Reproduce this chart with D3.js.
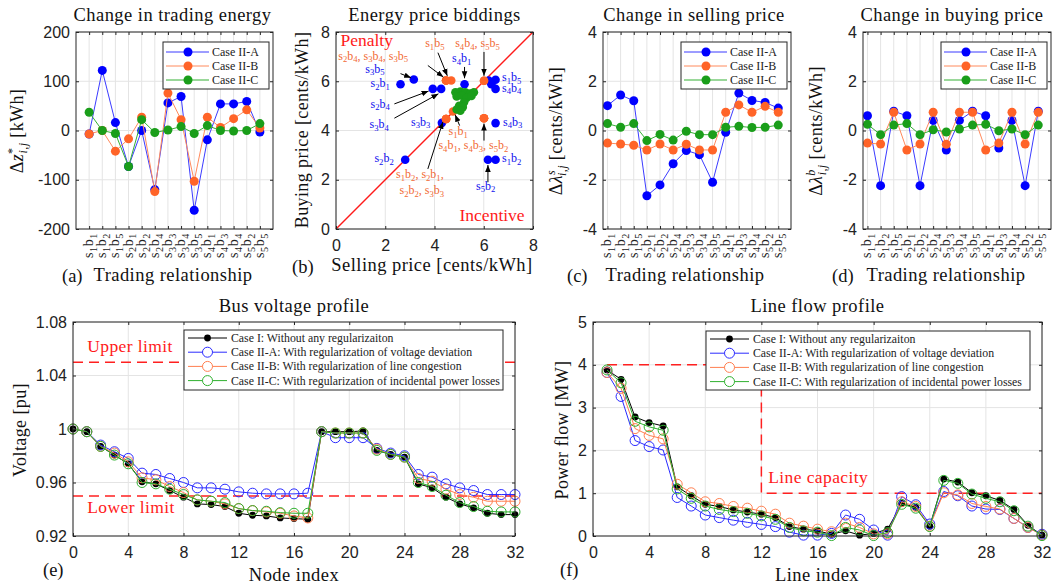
<!DOCTYPE html>
<html>
<head>
<meta charset="utf-8">
<script src="https://cdn.jsdelivr.net/npm/d3@7"></script>
<style>
  body { margin: 0; background: #fff; }
  svg { display: block; }
</style>
</head>
<body>
<svg id="fig" width="1062" height="586"></svg>
<script>
// ---- data ----
var trades = ["s1b1", "s1b2", "s1b5", "s2b1", "s2b2", "s2b4", "s3b3", "s3b4", "s3b5", "s4b1", "s4b3", "s4b4", "s5b2", "s5b5"];

// (a) change in trading energy [kWh]
var dzA = [-7, 122, 16, -73, 0, -120, 56, 69, -162, -19, 54, 54, 59, -3];
var dzB = [-7, 0, -42, -17, 27, -124, 76, 22, -103, 27, 6, 24, 42, 5];
var dzC = [37, 0, -6, -73, 22, -4, 1, 8, -6, 10, 0, -1, 0, 14];

// (c) change in selling price
var dlsA = [1.01, 1.44, 1.21, -2.65, -2.21, -1.35, -0.81, -0.98, -2.10, -0.07, 1.52, 1.22, 1.14, 0.91];
var dlsB = [-0.51, -0.55, -0.60, -0.79, -0.55, -0.79, -0.56, -0.79, -0.79, 0.74, 1.04, 0.74, 0.98, 0.74];
var dlsC = [0.28, 0.13, 0.28, -0.41, -0.16, -0.39, -0.03, -0.17, -0.17, 0.13, 0.17, 0.12, 0.13, 0.22];

// (d) change in buying price
var dlbA = [0.60, -2.24, 0.78, 0.60, -2.24, 0.41, -0.79, 0.41, 0.78, 0.60, -0.71, 0.41, -2.24, 0.78];
var dlbB = [-0.51, -0.55, 0.74, -0.79, -0.55, 0.74, -0.56, 0.74, 0.74, -0.79, -0.51, 0.74, -0.55, 0.74];
var dlbC = [0.25, -0.17, 0.22, 0.28, -0.17, 0.03, -0.06, 0.06, 0.22, 0.25, -0.01, 0.06, -0.17, 0.22];

// (b) bids: selling price / buying price per trade
var sellA = [6.31, 6.48, 6.48, 2.62, 2.81, 3.93, 4.30, 4.27, 3.16, 5.22, 6.48, 6.48, 6.17, 6.20];
var buyA  = [5.88, 2.81, 6.06, 5.88, 2.81, 5.69, 4.31, 5.69, 6.07, 5.88, 4.30, 5.69, 2.81, 6.03];
var sellB = [4.75, 4.47, 4.68, 4.47, 4.47, 4.47, 4.47, 4.47, 4.47, 6.01, 6.01, 6.01, 6.01, 6.01];
var buyB  = [4.77, 4.47, 6.03, 4.47, 4.47, 6.03, 4.47, 6.03, 6.03, 4.50, 4.50, 6.02, 4.50, 6.02];
var sellC = [4.85, 5.05, 5.25, 5.45, 5.60, 4.90, 5.10, 5.30, 5.50, 5.20, 5.00, 5.15, 4.90, 5.05];
var buyC  = [5.55, 5.58, 5.55, 5.50, 5.55, 5.38, 5.42, 5.32, 5.40, 5.15, 5.00, 4.95, 4.85, 4.80];

// (b) annotations (data coordinates)
var bidNotes = [
  { t: "s3b5", x: 1.19, y: 6.35, c: "A" }, { t: "s2b1", x: 1.40, y: 5.76, c: "A" },
  { t: "s2b4", x: 1.40, y: 4.92, c: "A" }, { t: "s3b4", x: 1.36, y: 4.09, c: "A" },
  { t: "s3b3", x: 3.05, y: 4.20, c: "A" }, { t: "s2b2", x: 1.56, y: 2.71, c: "A" },
  { t: "s4b1", x: 4.71, y: 6.78, c: "A" }, { t: "s1b5", x: 6.74, y: 6.00, c: "A" },
  { t: "s4b4", x: 6.74, y: 5.57, c: "A" }, { t: "s4b3", x: 6.78, y: 4.20, c: "A" },
  { t: "s1b2", x: 6.74, y: 2.71, c: "A" }, { t: "s5b2", x: 5.69, y: 1.59, c: "A" },
  { t: "s1b5", x: 3.62, y: 7.39, c: "B" }, { t: "s4b4, s5b5", x: 4.84, y: 7.39, c: "B" },
  { t: "s2b4, s3b4, s3b5", x: 0.09, y: 6.87, c: "B" }, { t: "s1b1", x: 4.57, y: 3.80, c: "B" },
  { t: "s4b1, s4b3, s5b2", x: 4.16, y: 3.24, c: "B" }, { t: "s1b2, s2b1,", x: 2.44, y: 2.06, c: "B" },
  { t: "s2b2, s3b3", x: 2.58, y: 1.42, c: "B" }
];
var bidArrows = [
  [2.62, 6.31, 3.05, 6.14], [2.37, 5.08, 3.76, 5.60], [2.37, 4.50, 4.16, 5.49],
  [5.22, 6.58, 5.22, 6.12], [4.14, 7.16, 4.52, 6.22], [3.73, 6.64, 4.36, 6.17],
  [6.01, 7.19, 6.01, 6.22], [5.02, 4.20, 4.84, 4.64], [6.01, 3.59, 6.01, 4.28],
  [3.73, 2.44, 4.34, 4.35], [6.17, 1.90, 6.17, 2.60]
];

// (e) bus voltage [pu], nodes 0..32
var nodes = d3.range(0, 33);
var voltI = [1.000, 0.998, 0.987, 0.9805, 0.974, 0.9605, 0.959, 0.954, 0.949, 0.944, 0.9435, 0.942, 0.937, 0.9355, 0.935, 0.9335, 0.933, 0.9325,
             0.998, 0.998, 0.998, 0.9985, 0.984, 0.981, 0.979, 0.959, 0.956, 0.949, 0.944, 0.941, 0.937, 0.936, 0.936];
var voltA = [1.000, 0.998, 0.988, 0.983, 0.978, 0.967, 0.966, 0.963, 0.960, 0.956, 0.956, 0.955, 0.953, 0.952, 0.9515, 0.9515, 0.9515, 0.952,
             0.998, 0.9935, 0.9935, 0.9935, 0.9855, 0.982, 0.980, 0.966, 0.964, 0.959, 0.956, 0.954, 0.951, 0.951, 0.951];
var voltB = [1.000, 0.998, 0.987, 0.982, 0.9755, 0.9635, 0.962, 0.957, 0.9525, 0.947, 0.946, 0.944, 0.9405, 0.939, 0.938, 0.937, 0.935, 0.9335,
             0.998, 0.997, 0.997, 0.997, 0.985, 0.981, 0.979, 0.963, 0.961, 0.955, 0.951, 0.949, 0.946, 0.946, 0.946];
var voltC = [1.000, 0.998, 0.987, 0.9805, 0.974, 0.960, 0.959, 0.955, 0.951, 0.947, 0.946, 0.945, 0.9405, 0.939, 0.9385, 0.9375, 0.937, 0.937,
             0.998, 0.997, 0.997, 0.997, 0.984, 0.981, 0.979, 0.960, 0.957, 0.9505, 0.945, 0.942, 0.9385, 0.938, 0.938];

// (f) line flow [MW], lines 1..32
var lines = d3.range(1, 33);
var flowI = [3.88, 3.66, 2.78, 2.65, 2.57, 1.15, 0.94, 0.74, 0.69, 0.61, 0.56, 0.51, 0.43, 0.22, 0.16, 0.12,
             0.04, 0.12, 0.02, 0.06, 0.16, 0.76, 0.67, 0.23, 1.33, 1.26, 1.01, 0.94, 0.83, 0.62, 0.25, 0.02];
var flowA = [3.82, 3.26, 2.23, 2.09, 2.01, 0.90, 0.70, 0.49, 0.43, 0.37, 0.32, 0.27, 0.22, 0.09, 0.02, 0.02,
             0.06, 0.49, 0.39, 0.14, 0.02, 0.92, 0.73, 0.28, 1.04, 0.94, 0.70, 0.63, 0.62, 0.41, 0.20, 0.04];
var flowB = [3.82, 3.45, 2.51, 2.35, 2.27, 1.21, 1.01, 0.80, 0.76, 0.69, 0.65, 0.58, 0.51, 0.30, 0.23, 0.16,
             0.10, 0.30, 0.20, 0.05, 0.05, 0.80, 0.69, 0.23, 1.01, 0.96, 0.76, 0.69, 0.63, 0.41, 0.20, 0.02];
var flowC = [3.88, 3.58, 2.68, 2.55, 2.47, 1.10, 0.88, 0.70, 0.62, 0.57, 0.53, 0.47, 0.39, 0.20, 0.12, 0.09,
             0.01, 0.20, 0.14, 0.01, 0.08, 0.74, 0.65, 0.22, 1.30, 1.23, 0.98, 0.88, 0.80, 0.59, 0.23, 0.01];

var voltLimits = [1.05, 0.95];
var capX = [1, 12, 12, 32], capY = [4, 4, 1, 1];

var caseNames = ["Case II-A", "Case II-B", "Case II-C"];
var longNames = ["Case I: Without any regularizaiton",
                 "Case II-A: With regularization of voltage deviation",
                 "Case II-B: With regularization of line congestion",
                 "Case II-C: With regularization of incidental power losses"];

// ---- styles ----
var SERIF = "'Liberation Serif','Times New Roman',serif";
var SANS = "'Liberation Sans',Arial,sans-serif";
var AX = "#262626", GRID = "#e4e4e4";
var dotCol = ["#0000ff", "#ff6428", "#1a9e1a"];
var lineCol = ["#3b3bff", "#ff8a5c", "#35b035"];
var ringCol = ["#000000", "#2a2aff", "#ff7f50", "#2fb02f"];
var BIG = 18.5, SPACE = 0.45;

var svg = d3.select("#fig");
var defs = svg.append("defs");
defs.append("marker").attr("id", "arr").attr("viewBox", "0 0 10 10")
  .attr("refX", 10).attr("refY", 5).attr("markerWidth", 7).attr("markerHeight", 7)
  .attr("orient", "auto")
  .append("path").attr("d", "M0,1L10,5L0,9z").attr("fill", "#000");

// letters normal, digits as subscripts
function subText(t, str, fs, drop) {
  var parts = str.match(/[0-9]+|[^0-9]+/g);
  var down = false, dd = fs * (drop || 0.28);
  parts.forEach(function(s) {
    var ts = t.append("tspan").text(s);
    if (/^[0-9]/.test(s)) { ts.attr("font-size", fs * 0.72).attr("dy", dd); down = true; }
    else if (down) { ts.attr("dy", -dd); down = false; }
  });
}

function panel(o) {
  var g = svg.append("g").attr("transform", "translate(" + o.left + "," + o.top + ")");
  var x = o.x.range([0, o.w]), y = o.y.range([o.h, 0]);
  var grid = g.append("g");
  grid.selectAll("line.vx").data(o.xTicks).join("line").attr("class", "vx")
    .attr("x1", x).attr("x2", x).attr("y1", 0).attr("y2", o.h).attr("stroke", GRID);
  grid.selectAll("line.hy").data(o.yTicks).join("line").attr("class", "hy")
    .attr("y1", y).attr("y2", y).attr("x1", 0).attr("x2", o.w).attr("stroke", GRID);
  var layer = g.append("g");
  var fr = g.append("g");
  function ax(gen, tr, fmt, pad) {
    var a = fr.append("g").attr("transform", tr)
      .call(gen.tickSizeInner(-3).tickSizeOuter(0).tickPadding(pad).tickFormat(fmt));
    a.select(".domain").remove();
    a.selectAll("line").attr("stroke", AX);
    a.selectAll("text").attr("font-family", SANS).attr("font-size", 16).attr("fill", "#222");
    return a;
  }
  var none = function() { return ""; };
  ax(d3.axisBottom(x).tickValues(o.xTicks), "translate(0," + o.h + ")", o.xFmt || none, o.xPad || 11);
  ax(d3.axisTop(x).tickValues(o.xTicks), "translate(0,0)", none, 3);
  ax(d3.axisLeft(y).tickValues(o.yTicks), "translate(0,0)", o.yFmt, 6);
  ax(d3.axisRight(y).tickValues(o.yTicks), "translate(" + o.w + ",0)", none, 3);
  fr.append("rect").attr("width", o.w).attr("height", o.h)
    .attr("fill", "none").attr("stroke", AX).attr("stroke-width", 1);
  // title
  svg.append("text").attr("x", o.left + o.w / 2 + (o.titleDx || 0)).attr("y", o.titleY)
    .attr("text-anchor", "middle").attr("font-family", SERIF).attr("font-size", BIG)
    .attr("letter-spacing", SPACE).attr("fill", "#111").text(o.title);
  return { g: g, x: x, y: y, layer: layer, fr: fr, w: o.w, h: o.h, left: o.left, top: o.top };
}

function xLabel(letter, lx, ly, text, cx, by) {
  svg.append("text").attr("x", lx).attr("y", ly).attr("font-family", SERIF).attr("font-size", BIG)
    .attr("fill", "#111").text(letter);
  svg.append("text").attr("x", cx).attr("y", by).attr("text-anchor", "middle")
    .attr("font-family", SERIF).attr("font-size", BIG).attr("letter-spacing", SPACE)
    .attr("fill", "#111").text(text);
}

function yLabelText(cx, cy) {
  return svg.append("text").attr("transform", "translate(" + cx + "," + cy + ") rotate(-90)")
    .attr("text-anchor", "middle").attr("font-family", SERIF).attr("font-size", 18)
    .attr("letter-spacing", 0.4).attr("fill", "#111");
}

function mathLabel(cx, cy, sym, sup, unit) {
  var t = yLabelText(cx, cy);
  t.append("tspan").text("\u0394");
  t.append("tspan").attr("font-style", "italic").text(sym);
  t.append("tspan").attr("dy", -7).attr("font-size", 12).attr("font-style", sup === "*" ? "normal" : "italic").text(sup);
  t.append("tspan").attr("dx", -6).attr("dy", 11).attr("font-size", 12).attr("font-style", "italic").text("i,j");
  t.append("tspan").attr("dy", -4).text(" " + unit);
}

function categoryPanel(o, series) {
  var p = panel(o);
  p.fr.selectAll("text.cat").data(trades).join("text").attr("class", "cat")
    .attr("transform", function(d, i) { return "translate(" + (p.x(i + 1) + 4) + "," + (p.h + 4) + ") rotate(-90)"; })
    .attr("text-anchor", "end").attr("font-family", SERIF).attr("font-size", 14).attr("fill", "#222")
    .attr("letter-spacing", 0.6)
    .each(function(d) { subText(d3.select(this), d, 14); });
  series.forEach(function(vals, k) {
    p.layer.append("path").datum(vals)
      .attr("d", d3.line().x(function(d, i) { return p.x(i + 1); }).y(function(d) { return p.y(d); }))
      .attr("fill", "none").attr("stroke", lineCol[k]).attr("stroke-width", 1);
    p.layer.selectAll(null).data(vals).join("circle")
      .attr("cx", function(d, i) { return p.x(i + 1); }).attr("cy", function(d) { return p.y(d); })
      .attr("r", 4.5).attr("fill", dotCol[k]);
  });
  // legend
  var lw = 106, lh = 47, lx = p.w - lw - 4, ly = 10;
  var lg = p.g.append("g").attr("transform", "translate(" + lx + "," + ly + ")");
  lg.append("rect").attr("width", lw).attr("height", lh).attr("fill", "#fff").attr("stroke", AX);
  caseNames.forEach(function(nm, k) {
    var yy = 10 + k * 14;
    lg.append("line").attr("x1", 3).attr("x2", 46).attr("y1", yy).attr("y2", yy).attr("stroke", lineCol[k]);
    lg.append("circle").attr("cx", 25).attr("cy", yy).attr("r", 4.5).attr("fill", dotCol[k]);
    lg.append("text").attr("x", 49).attr("y", yy + 4).attr("font-family", SERIF).attr("font-size", 12)
      .attr("fill", "#222").text(nm);
  });
  return p;
}

var catTicks = d3.range(1, 15);
var fmtInt = function(d) { return String(d); };

// (a)
categoryPanel({ left: 76, top: 32, w: 197, h: 197, x: d3.scaleLinear().domain([0, 15]),
  y: d3.scaleLinear().domain([-200, 200]), xTicks: catTicks, yTicks: [-200, -100, 0, 100, 200],
  yFmt: fmtInt, title: "Change in trading energy", titleY: 21, titleDx: -2 }, [dzA, dzB, dzC]);
mathLabel(23, 131, "z", "*", "[kWh]");
xLabel("(a)", 62, 282, "Trading relationship", 173, 281);

// (c)
categoryPanel({ left: 603, top: 32, w: 188, h: 197, x: d3.scaleLinear().domain([0.66, 14.97]),
  y: d3.scaleLinear().domain([-4, 4]), xTicks: catTicks, yTicks: [-4, -2, 0, 2, 4],
  yFmt: fmtInt, title: "Change in selling price", titleY: 21, titleDx: -3 }, [dlsA, dlsB, dlsC]);
mathLabel(562, 131, "\u03bb", "s", "[cents/kWh]");
xLabel("(c)", 567, 282, "Trading relationship", 685, 281);

// (d)
categoryPanel({ left: 863, top: 32, w: 188, h: 197, x: d3.scaleLinear().domain([0.66, 14.97]),
  y: d3.scaleLinear().domain([-4, 4]), xTicks: catTicks, yTicks: [-4, -2, 0, 2, 4],
  yFmt: fmtInt, title: "Change in buying price", titleY: 21, titleDx: -5 }, [dlbA, dlbB, dlbC]);
mathLabel(822, 131, "\u03bb", "b", "[cents/kWh]");
xLabel("(d)", 832, 282, "Trading relationship", 946, 281);

// (b)
var pb = panel({ left: 336, top: 32, w: 197, h: 197, x: d3.scaleLinear().domain([0, 8]),
  y: d3.scaleLinear().domain([0, 8]), xTicks: [0, 2, 4, 6, 8], yTicks: [0, 2, 4, 6, 8],
  xFmt: fmtInt, yFmt: fmtInt, xPad: 11, title: "Energy price biddings", titleY: 21 });
pb.layer.append("line").attr("x1", pb.x(0)).attr("y1", pb.y(0)).attr("x2", pb.x(8)).attr("y2", pb.y(8))
  .attr("stroke", "#ff1a1a").attr("stroke-width", 1.5);
[[sellA, buyA], [sellB, buyB], [sellC, buyC]].forEach(function(s, k) {
  pb.layer.selectAll(null).data(s[0]).join("circle")
    .attr("cx", function(d) { return pb.x(d); }).attr("cy", function(d, i) { return pb.y(s[1][i]); })
    .attr("r", 4.3).attr("fill", dotCol[k]);
});
pb.layer.selectAll("line.arw").data(bidArrows).join("line").attr("class", "arw")
  .attr("x1", function(d) { return pb.x(d[0]); }).attr("y1", function(d) { return pb.y(d[1]); })
  .attr("x2", function(d) { return pb.x(d[2]); }).attr("y2", function(d) { return pb.y(d[3]); })
  .attr("stroke", "#000").attr("stroke-width", 1).attr("marker-end", "url(#arr)");
pb.layer.selectAll("text.note").data(bidNotes).join("text").attr("class", "note")
  .attr("x", function(d) { return pb.x(d.x); }).attr("y", function(d) { return pb.y(d.y); })
  .attr("font-family", SERIF).attr("font-size", 12)
  .attr("fill", function(d) { return d.c === "A" ? "#1010ee" : "#f26a35"; })
  .each(function(d) { subText(d3.select(this), d.t, 12, 0.22); });
pb.layer.append("text").attr("x", pb.x(0.18)).attr("y", pb.y(7.43)).attr("font-family", SERIF)
  .attr("font-size", 17.5).attr("fill", "#ff1a1a").text("Penalty");
pb.layer.append("text").attr("x", pb.x(7.66)).attr("y", pb.y(0.34)).attr("text-anchor", "end")
  .attr("font-family", SERIF).attr("font-size", 17.5).attr("fill", "#ff1a1a").text("Incentive");
yLabelText(308, 130).text("Buying price [cents/kWh]");
xLabel("(b)", 292, 273, "Selling price [cents/kWh]", 432, 271);

// ---- bottom row ----
function profile(p, xs, sets) {
  sets.forEach(function(vals, k) {
    p.layer.append("path").datum(vals)
      .attr("d", d3.line().x(function(d, i) { return p.x(xs[i]); }).y(function(d) { return p.y(d); }))
      .attr("fill", "none").attr("stroke", ringCol[k]).attr("stroke-width", 1);
    var c = p.layer.selectAll(null).data(vals).join("circle")
      .attr("cx", function(d, i) { return p.x(xs[i]); }).attr("cy", function(d) { return p.y(d); });
    if (k === 0) c.attr("r", 3.4).attr("fill", "#000");
    else c.attr("r", 5).attr("fill", "none").attr("stroke", ringCol[k]).attr("stroke-width", 1);
  });
}

function bigLegend(p, lx, ly, lw, lh, tx) {
  var lg = p.g.append("g").attr("transform", "translate(" + lx + "," + ly + ")");
  lg.append("rect").attr("width", lw).attr("height", lh).attr("fill", "#fff").attr("stroke", AX);
  longNames.forEach(function(nm, k) {
    var yy = 8 + k * 14.2;
    lg.append("line").attr("x1", 4).attr("x2", tx - 4).attr("y1", yy).attr("y2", yy).attr("stroke", ringCol[k]);
    var c = lg.append("circle").attr("cx", (tx) / 2).attr("cy", yy);
    if (k === 0) c.attr("r", 3.4).attr("fill", "#000");
    else c.attr("r", 5).attr("fill", "#fff").attr("stroke", ringCol[k]);
    lg.append("text").attr("x", tx).attr("y", yy + 4).attr("font-family", SERIF).attr("font-size", 11.8)
      .attr("fill", "#222").text(nm);
  });
}

var fmt2 = function(d) { return String(+d.toFixed(2)); };

// (e)
var pe = panel({ left: 73, top: 322, w: 442, h: 214, x: d3.scaleLinear().domain([0, 32]),
  y: d3.scaleLinear().domain([0.92, 1.08]), xTicks: d3.range(0, 33, 4), yTicks: [0.92, 0.96, 1, 1.04, 1.08],
  xFmt: fmtInt, yFmt: fmt2, xPad: 11, title: "Bus voltage profile", titleY: 312 });
pe.layer.selectAll("line.lim").data(voltLimits).join("line").attr("class", "lim")
  .attr("x1", 0).attr("x2", pe.w).attr("y1", function(d) { return pe.y(d); }).attr("y2", function(d) { return pe.y(d); })
  .attr("stroke", "#ff2020").attr("stroke-width", 1.5).attr("stroke-dasharray", "10,6");
profile(pe, nodes, [voltI, voltA, voltB, voltC]);
pe.layer.append("text").attr("x", pe.x(1.03)).attr("y", pe.y(1.0575)).attr("font-family", SERIF)
  .attr("font-size", 17.5).attr("letter-spacing", 0.4).attr("fill", "#ff1a1a").text("Upper limit");
pe.layer.append("text").attr("x", pe.x(1.03)).attr("y", pe.y(0.937)).attr("font-family", SERIF)
  .attr("font-size", 17.5).attr("letter-spacing", 0.4).attr("fill", "#ff1a1a").text("Lower limit");
bigLegend(pe, 111, 8, 319, 60, 47);
yLabelText(26, 430).text("Voltage [pu]");
xLabel("(e)", 43, 576, "Node index", 294, 581);

// (f)
var pf = panel({ left: 593, top: 322, w: 449, h: 214, x: d3.scaleLinear().domain([0, 32]),
  y: d3.scaleLinear().domain([0, 5]), xTicks: d3.range(0, 33, 4), yTicks: [0, 1, 2, 3, 4, 5],
  xFmt: fmtInt, yFmt: fmtInt, xPad: 11, title: "Line flow profile", titleY: 312 });
pf.layer.append("path").datum(capX)
  .attr("d", d3.line().x(function(d) { return pf.x(d); }).y(function(d, i) { return pf.y(capY[i]); }))
  .attr("fill", "none").attr("stroke", "#ff2020").attr("stroke-width", 1.5).attr("stroke-dasharray", "10,6");
profile(pf, lines, [flowI, flowA, flowB, flowC]);
pf.layer.append("text").attr("x", pf.x(12.49)).attr("y", pf.y(1.25)).attr("font-family", SERIF)
  .attr("font-size", 17.5).attr("letter-spacing", 0.4).attr("fill", "#ff1a1a").text("Line capacity");
bigLegend(pf, 113, 9, 324, 59, 47);
yLabelText(568, 430).text("Power flow [MW]");
xLabel("(f)", 560, 576, "Line index", 817, 581);
</script>
</body>
</html>
